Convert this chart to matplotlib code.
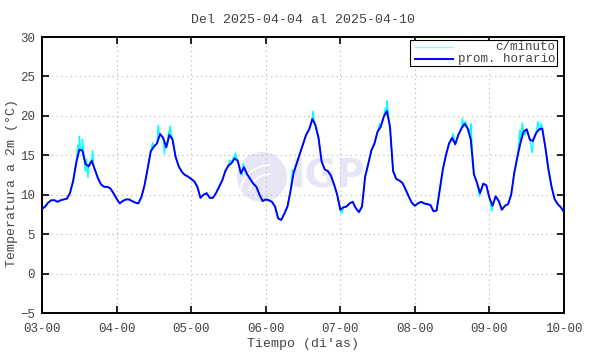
import matplotlib
matplotlib.use("Agg")
import matplotlib.pyplot as plt
from matplotlib.patches import Ellipse, Rectangle, Arc

# ---- data ----
title = "Del 2025-04-04 al 2025-04-10"
xlabel = "Tiempo (di'as)"
ylabel = "Temperatura a 2m (°C)"
xtick_labels = ["03-00", "04-00", "05-00", "06-00", "07-00", "08-00", "09-00", "10-00"]
ytick_values = [-5, 0, 5, 10, 15, 20, 25, 30]

# hourly mean temperature, one value per hour from 03-00 to 10-00
hourly_temp = [
    8.2, 8.5, 9.0, 9.3, 9.3, 9.1, 9.3, 9.4, 9.5, 10.2, 11.7, 14.0,
    15.7, 15.6, 13.9, 13.6, 14.3, 13.2, 12.1, 11.3, 11.0, 11.0, 10.8, 10.2,
    9.5, 8.9, 9.2, 9.4, 9.4, 9.2, 9.0, 8.9, 9.7, 11.2, 13.3, 15.5,
    16.1, 16.5, 17.7, 17.2, 16.0, 17.6, 17.0, 14.8, 13.6, 12.9, 12.5, 12.3,
    12.0, 11.7, 11.0, 9.6, 10.0, 10.2, 9.6, 9.6, 10.2, 11.0, 11.8, 13.0,
    13.7, 14.0, 14.6, 14.3, 12.7, 13.5, 12.6, 12.0, 11.4, 11.0, 10.0, 9.2,
    9.4, 9.3, 9.1, 8.5, 7.0, 6.8, 7.6, 8.5, 10.5, 12.8, 14.0, 15.2,
    16.4, 17.6, 18.3, 19.6, 18.8, 17.2, 14.2, 13.2, 13.0, 12.4, 11.3, 10.0,
    8.1, 8.4, 8.5, 8.9, 9.1, 8.3, 7.8, 8.5, 12.3, 13.9, 15.6, 16.5,
    18.0, 18.6, 19.9, 20.6, 18.6, 13.0, 12.0, 11.8, 11.5, 10.7, 9.8, 9.0,
    8.6, 8.9, 9.1, 8.9, 8.8, 8.7, 7.9, 8.0, 10.6, 13.2, 15.0, 16.5,
    17.2, 16.4, 17.6, 18.4, 19.0, 18.4, 17.0, 12.6, 11.5, 10.2, 11.4, 11.2,
    9.6, 8.6, 9.8, 9.2, 8.1, 8.6, 8.8, 10.0, 12.8, 14.8, 16.6, 18.0,
    18.3, 17.0, 16.8, 17.8, 18.3, 18.4, 16.0, 13.2, 11.0, 9.4, 8.8, 8.4,
    7.8,
]

# per-minute readings that stand out from the hourly mean (hour, temperature)
minute_spike_hours = [
    11.5, 12.0, 12.4, 13.0, 14.0, 14.3, 14.8, 15.4, 16.3, 16.6,
    35.6, 37.4, 37.8, 39.4, 39.7, 40.8, 41.2, 41.6,
    60.5, 61.6, 62.2, 64.4, 64.8,
    80.6, 85.5, 86.6, 87.2, 87.6, 88.4, 96.4,
    104.5, 108.6, 110.5, 111.0, 111.4,
    132.3, 135.3, 135.7, 136.4, 137.6, 138.0, 140.8, 144.8,
    153.8, 154.6, 155.4, 157.8, 158.2, 159.6, 160.2, 160.7,
]
minute_spike_temp = [
    16.3, 17.4, 16.0, 17.0, 13.0, 14.5, 12.2, 14.0, 15.6, 13.8,
    16.6, 18.8, 17.6, 15.2, 16.4, 18.0, 18.7, 17.8,
    14.4, 14.8, 15.3, 12.5, 13.9,
    13.2, 18.0, 18.9, 20.6, 19.4, 18.0, 7.6,
    12.9, 19.0, 21.0, 21.9, 20.5,
    17.8, 19.7, 18.7, 19.3, 18.2, 19.0, 9.8, 7.9,
    18.2, 19.1, 17.6, 15.3, 17.3, 19.3, 18.1, 19.1,
]

# ---- build series ----
hours = list(range(len(hourly_temp)))
x_hourly = [h / 24.0 for h in hours]
pairs = sorted(list(zip(hours, hourly_temp)) + list(zip(minute_spike_hours, minute_spike_temp)))
x_minute = [p[0] / 24.0 for p in pairs]
y_minute = [p[1] for p in pairs]

plt.rcParams["font.family"] = ["Liberation Mono", "DejaVu Sans Mono"]
txt_color = "#444444"

fig = plt.figure(figsize=(5.9, 3.54), dpi=100)
ax = fig.add_axes([42 / 590, 1 - 313 / 354, 522 / 590, 276 / 354])

# watermark logo
wm = "#e6e6f7"
cx, cy = (262 - 42) / 522, (313 - 177) / 276
ax.add_patch(Ellipse((cx, cy), 50 / 522, 50 / 276, transform=ax.transAxes,
                     facecolor=wm, edgecolor="none", zorder=0))
for r in (0.7, 1.0):
    ax.add_patch(Arc((cx + 8 / 522, cy - 18 / 276), r * 60 / 522, r * 60 / 276,
                     theta1=90, theta2=160, transform=ax.transAxes,
                     color="white", lw=1.2, zorder=0.5))
ax.text((290 - 42) / 522, cy, "IGP", transform=ax.transAxes, fontsize=28, fontweight="bold",
        family="DejaVu Sans", color=wm, ha="left", va="center", zorder=0)

ax.plot(x_minute, y_minute, color="#00ffff", lw=1.0, zorder=2)
ax.plot(x_hourly, hourly_temp, color="#0000ff", lw=1.4, zorder=3)

ax.set_xlim(0, 7)
ax.set_ylim(-5, 30)
ax.set_xticks(range(len(xtick_labels)))
ax.set_xticklabels(xtick_labels)
ax.set_yticks(ytick_values)
ax.tick_params(direction="in", length=5, width=1.2, top=True, right=True,
               labelsize=9, labelcolor=txt_color)
ax.tick_params(axis="y", pad=5)
ax.tick_params(axis="x", pad=7)
ax.grid(True, color="#bdbdbd", linestyle=(0, (1.2, 3)), linewidth=0.8)
for s in ax.spines.values():
    s.set_linewidth(1.4)
    s.set_color("black")

ax.set_title(title, fontsize=9.5, color=txt_color, pad=10)
ax.set_xlabel(xlabel, fontsize=9.5, color=txt_color, labelpad=2)
ax.set_ylabel(ylabel, fontsize=9.5, color=txt_color)
ax.yaxis.set_label_coords(-(42 - 18) / 522, (313 - 183) / 276)

# legend box (gnuplot style: sample left, text right aligned)
def ax_xy(px, py):
    return (px - 42) / 522, (313 - py) / 276

bx0, by0 = ax_xy(410, 66)
bx1, by1 = ax_xy(557, 40)
ax.add_patch(Rectangle((bx0, by0), bx1 - bx0, by1 - by0, transform=ax.transAxes,
                       facecolor="white", edgecolor="black", lw=0.8, zorder=5))
for label, color, lw, py in [("c/minuto", "#9ff5ff", 1.0, 47), ("prom. horario", "#0000ff", 1.4, 59)]:
    lx0, ly = ax_xy(415, py)
    lx1, _ = ax_xy(453, py)
    ax.plot([lx0, lx1], [ly, ly], transform=ax.transAxes, color=color, lw=lw, zorder=6)
    tx, _ = ax_xy(555, py)
    ax.text(tx, ly, label, transform=ax.transAxes, ha="right", va="center",
            fontsize=9, color=txt_color, zorder=6)

fig.savefig("out.png", dpi=100)
